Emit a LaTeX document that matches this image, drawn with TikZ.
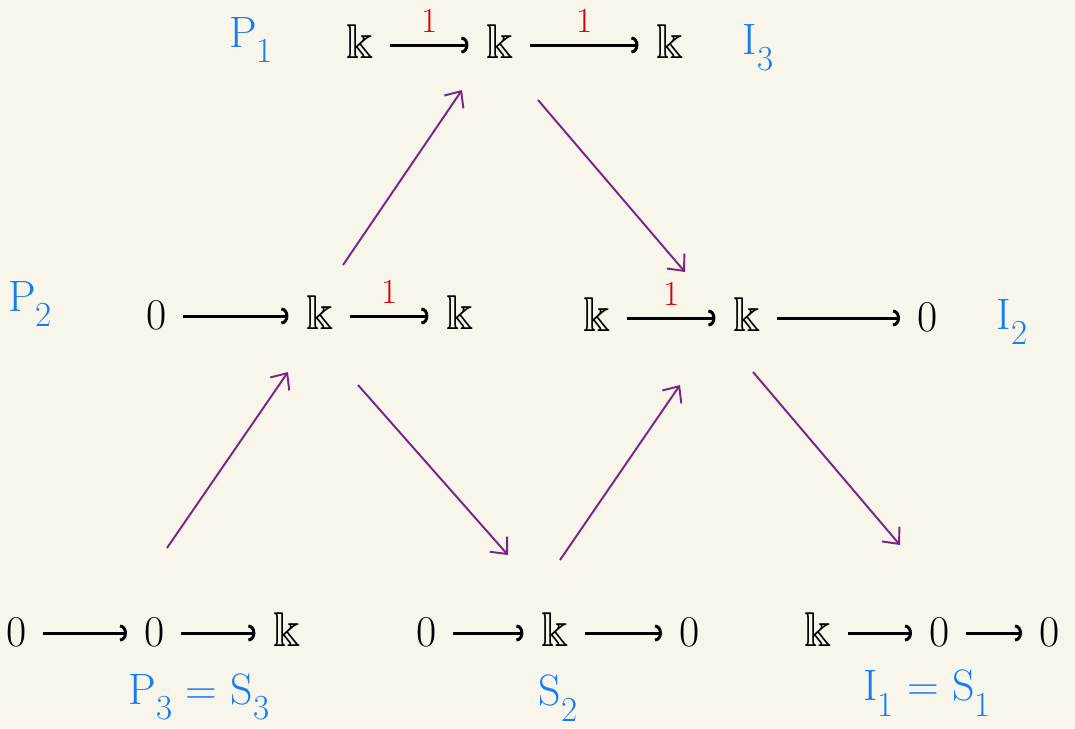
\documentclass[tikz,border=0pt]{standalone}
\usepackage{amsmath,amssymb}
\definecolor{qpaper}{RGB}{248,246,234}
\definecolor{qblue}{RGB}{20,125,245}
\definecolor{qred}{RGB}{215,0,0}
\definecolor{qpurple}{RGB}{125,35,135}
\usetikzlibrary{arrows.meta}
\newcommand{\modsub}[1]{\raisebox{-9pt}{\fontsize{20}{22}\selectfont#1}}

\begin{document}
\begin{tikzpicture}[x=0.02cm, y=-0.02cm,
    cell/.style={inner sep=0pt, text height=15pt, text depth=0pt, font=\fontsize{28}{30}\selectfont},
    zerocell/.style={cell, font=\fontsize{25}{28}\selectfont},
    modlabel/.style={inner sep=0pt, text=qblue, font=\fontsize{25}{28}\selectfont},
    map/.style={black, line width=1.7pt, -{Arc Barb[length=1.4mm, width=3.4mm]}, shorten <=9pt, shorten >=10pt},
    one/.style={midway, above=3pt, text=qred, font=\fontsize{20}{22}\selectfont},
    ar/.style={qpurple, line width=1.1pt, -{Straight Barb[length=2.6mm, width=4.6mm]}}]
  \path[use as bounding box, fill=qpaper] (0,0) rectangle (1075,728);

  % P1 = I3
  \node[cell] (pone-a) at (360,45) {$\Bbbk$};
  \node[cell] (pone-b) at (500,45) {$\Bbbk$};
  \node[cell] (pone-c) at (670,45) {$\Bbbk$};
  \draw[map] (pone-a) -- (pone-b) node[one] {1};
  \draw[map] (pone-b) -- (pone-c) node[one] {1};
  \node[modlabel] (lab-pone) at (251,40) {P\modsub{1}};
  \node[modlabel] (lab-ithree) at (758,48) {I\modsub{3}};

  % P2
  \node[zerocell] (ptwo-a) at (157,316) {0};
  \node[cell] (ptwo-b) at (320,316) {$\Bbbk$};
  \node[cell] (ptwo-c) at (460,316) {$\Bbbk$};
  \draw[map] (ptwo-a) -- (ptwo-b);
  \draw[map] (ptwo-b) -- (ptwo-c) node[one] {1};
  \node[modlabel] (lab-ptwo) at (30,304) {P\modsub{2}};

  % I2
  \node[cell] (itwo-a) at (597,318) {$\Bbbk$};
  \node[cell] (itwo-b) at (747,318) {$\Bbbk$};
  \node[zerocell] (itwo-c) at (928,318) {0};
  \draw[map] (itwo-a) -- (itwo-b) node[one] {1};
  \draw[map] (itwo-b) -- (itwo-c);
  \node[modlabel] (lab-itwo) at (1012,322) {I\modsub{2}};

  % P3 = S3
  \node[zerocell] (pthree-a) at (17,633) {0};
  \node[zerocell] (pthree-b) at (155,633) {0};
  \node[cell] (pthree-c) at (287,633) {$\Bbbk$};
  \draw[map] (pthree-a) -- (pthree-b);
  \draw[map] (pthree-b) -- (pthree-c);
  \node[modlabel] (lab-pthree) at (199,697) {P\modsub{3} = S\modsub{3}};

  % S2
  \node[zerocell] (stwo-a) at (427,633) {0};
  \node[cell] (stwo-b) at (555,633) {$\Bbbk$};
  \node[zerocell] (stwo-c) at (690,633) {0};
  \draw[map] (stwo-a) -- (stwo-b);
  \draw[map] (stwo-b) -- (stwo-c);
  \node[modlabel] (lab-stwo) at (558,698) {S\modsub{2}};

  % I1 = S1
  \node[cell] (sone-a) at (818,633) {$\Bbbk$};
  \node[zerocell] (sone-b) at (940,633) {0};
  \node[zerocell] (sone-c) at (1050,633) {0};
  \draw[map] (sone-a) -- (sone-b);
  \draw[map] (sone-b) -- (sone-c);
  \node[modlabel] (lab-sone) at (927,693) {I\modsub{1} = S\modsub{1}};

  % irreducible maps
  \coordinate (p3p2-s) at (167,548); \coordinate (p3p2-e) at (288,372);
  \coordinate (p2p1-s) at (343,265); \coordinate (p2p1-e) at (462,90);
  \coordinate (p1i2-s) at (538,100); \coordinate (p1i2-e) at (685,272);
  \coordinate (p2s2-s) at (358,385); \coordinate (p2s2-e) at (508,555);
  \coordinate (s2i2-s) at (560,560); \coordinate (s2i2-e) at (680,385);
  \coordinate (i2s1-s) at (753,372); \coordinate (i2s1-e) at (900,545);
  \draw[ar] (p3p2-s) -- (p3p2-e);
  \draw[ar] (p2p1-s) -- (p2p1-e);
  \draw[ar] (p1i2-s) -- (p1i2-e);
  \draw[ar] (p2s2-s) -- (p2s2-e);
  \draw[ar] (s2i2-s) -- (s2i2-e);
  \draw[ar] (i2s1-s) -- (i2s1-e);
\end{tikzpicture}
\end{document}
